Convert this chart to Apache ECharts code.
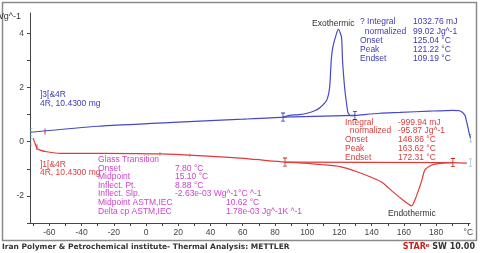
<!DOCTYPE html>
<html><head><meta charset="utf-8">
<script src="https://cdn.jsdelivr.net/npm/echarts@6/dist/echarts.min.js"></script>
<style>html,body{margin:0;padding:0;background:#fff}#c{width:480px;height:253px}</style>
</head><body><div id="c"></div>
<script>
// Blue curve (]3[ cooling run, exothermic peak)
const blueT = [-71.4,-30,20,60,85,89,95,100,105,108,112,113.9,114.9,115.9,118.2,119.4,121.3,121.9,123.2,124.4,125.3,126.9,130,145,157.5,176,190.6,194.7,197.8,198.9,200.5,201.3];
const blueV = [0.35,0.57,0.72,0.83,0.91,0.97,1.0,1.05,1.15,1.26,1.52,2.0,3.0,3.49,4.0,4.15,3.85,3.0,2.0,1.41,1.07,0.96,0.97,1.05,1.08,1.13,1.16,1.14,0.98,0.74,0.31,0.13];
// Red curve (]1[ heating run, endothermic peak)
const redT = [-70,-67.8,-65.8,-61.6,-53.4,-28.6,8.6,54,86.2,100,110,120.3,130.9,140.8,147,153.2,159.4,164.8,166.8,168.7,171.2,173,177.4,182.3,190.4,199.1];
const redV = [0.13,-0.23,-0.31,-0.37,-0.43,-0.43,-0.45,-0.59,-0.75,-0.8,-0.85,-0.92,-1.11,-1.34,-1.52,-1.85,-2.15,-2.37,-2.15,-1.85,-1.41,-1.04,-0.86,-0.8,-0.77,-0.79];
// Integration baselines (limits)
const blueBaseT = [85, 129.6];
const blueBaseV = [0.91, 0.97];
const redBaseT = [86.2, 190.4];
const redBaseV = [-0.75, -0.77];
// start/end markers
const endT = [-71.4, -71.4, 201.3, 201.3];
const endV = [0.35, -0.01, 0.13, -0.77];
// glass transition markers on red curve
const tgT = [8.6, 27.2];
const tgV = [-0.45, -0.5];
// small red marks near curve starts
const startMarkT = [-62.7, -67.7];
const startMarkV = [0.38, -0.2];

// axis ticks
const xTicks = [-70,-60,-50,-40,-30,-20,-10,0,10,20,30,40,50,60,70,80,90,100,110,120,130,140,150,160,170,180,190,200];
const xLabels = [-60,-40,-20,0,20,40,60,80,100,120,140,160,180,200];
const yTicks = [-3,-2,-1,0,1,2,3,4];
const yLabels = [-2,0,2,4];

const zip = (a,b) => a.map((v,i)=>[v,b[i]]);
const BLUE = '#4848c8', RED = '#e23a3a', MAG = '#cc44cc', BTXT = '#3c3cb4', RTXT = '#d84040';
const FONT = '"Liberation Sans", Arial, sans-serif';
const BFONT = '"DejaVu Sans", Verdana, sans-serif';
const ibeam = 'path://M0,0h5v1h-2v8h2v1h-5v-1h2v-8h-2z';

function txt(x, y, s, color, opts) {
  return Object.assign({type:'text', x, y, style:{text:s, fill:color, font:'8.5px ' + FONT, textVerticalAlign:'middle'}}, opts || {});
}

const g = [];
g.push({type:'rect', shape:{x:2.5, y:2.5, width:474, height:238}, style:{fill:'none', stroke:'#8a8a8a', lineWidth:1.5}});
g.push({type:'text', x:21, y:17, style:{text:'Wg^-1', fill:'#333', font:'9px '+FONT, textAlign:'right', textVerticalAlign:'middle'}});
// blue sample
g.push(txt(40, 95, ']3[&4R', BTXT));
g.push(txt(40, 104, '4R, 10.4300 mg', BTXT));
// red sample
g.push(txt(40, 165, ']1[&4R', RTXT));
g.push(txt(40, 173, '4R, 10.4300 mg', RTXT));
// glass transition block
const gL = ['Glass Transition','Onset','Midpoint','Inflect. Pt.','Inflect. Slp.','Midpoint ASTM,IEC','Delta cp ASTM,IEC'];
const gY = [160,169,177,186,194,203,212];
gL.forEach((s,i)=>g.push(txt(98, gY[i], s, MAG)));
g.push(txt(175, 169, '7.80 °C', MAG));
g.push(txt(175, 177, '15.10 °C', MAG));
g.push(txt(175, 186, '8.88 °C', MAG));
g.push(txt(175, 194, '-2.63e-03 Wg^-1°C ^-1', MAG));
g.push(txt(226, 203, '10.62 °C', MAG));
g.push(txt(226, 212, '1.78e-03 Jg^-1K ^-1', MAG));
// red results
const rL = ['Integral','  normalized','Onset','Peak','Endset'];
const rVal = ['-999.94 mJ','-95.87 Jg^-1','146.86 °C','163.62 °C','172.31 °C'];
const rY = [123,131,140,149,158];
rL.forEach((s,i)=>{ g.push(txt(345, rY[i], s, RTXT)); g.push(txt(398, rY[i], rVal[i], RTXT)); });
// blue results
const bL = ['? Integral','  normalized','Onset','Peak','Endset'];
const bVal = ['1032.76 mJ','99.02 Jg^-1','125.04 °C','121.22 °C','109.19 °C'];
const bY = [22,32,41,50,59];
bL.forEach((s,i)=>{ g.push(txt(360, bY[i], s, BTXT)); g.push(txt(413, bY[i], bVal[i], BTXT)); });
g.push(txt(312, 24, 'Exothermic', '#333'));
g.push(txt(388, 214, 'Endothermic', '#333'));
// footer
g.push({type:'text', x:2, y:247, style:{text:'Iran Polymer & Petrochemical institute- Thermal Analysis: METTLER', fill:'#333', font:'bold 7.5px '+BFONT, textVerticalAlign:'middle'}});
g.push({type:'text', x:475, y:247, style:{text:'{r|STAR}{s|e} SW 10.00', fill:'#333', font:'bold 8px '+BFONT, textAlign:'right', textVerticalAlign:'middle',
  rich:{r:{fill:'#d02020', font:'bold 8px '+BFONT}, s:{fill:'#d02020', font:'bold 5.5px '+BFONT, verticalAlign:'top'}}}});

const chart = echarts.init(document.getElementById('c'), null, {renderer:'canvas'});
chart.setOption({
  animation:false,
  grid:{left:30, right:10, top:13, bottom:30},
  xAxis:{type:'value', min:-72, max:201,
    axisLine:{show:true, onZero:false, lineStyle:{color:'#444', width:1}},
    axisTick:{show:true, inside:false, length:3, customValues:xTicks, lineStyle:{color:'#444'}},
    axisLabel:{show:true, customValues:xLabels, margin:5, color:'#444', fontSize:8.5, fontFamily:FONT,
      formatter:v => v===200 ? '°C' : String(v)},
    splitLine:{show:false}},
  yAxis:{type:'value', min:-3, max:4.75,
    axisLine:{show:true, onZero:false, lineStyle:{color:'#444', width:1}},
    axisTick:{show:true, inside:false, length:3, customValues:yTicks, lineStyle:{color:'#444'}},
    axisLabel:{show:true, customValues:yLabels, margin:6, color:'#444', fontSize:8.5, fontFamily:FONT},
    splitLine:{show:false}},
  series:[
    {type:'line', data:zip(blueT,blueV), showSymbol:false, smooth:0.2, clip:false, lineStyle:{color:BLUE, width:1.2}},
    {type:'line', data:zip(redT,redV), showSymbol:false, smooth:0.2, clip:false, lineStyle:{color:RED, width:1.2}},
    {type:'line', data:zip(blueBaseT,blueBaseV), symbol:ibeam, symbolSize:[4,9], showSymbol:true, itemStyle:{color:'#3030b0'}, lineStyle:{color:BLUE, width:1.2}},
    {type:'line', data:zip(redBaseT,redBaseV), symbol:ibeam, symbolSize:[4,9], showSymbol:true, itemStyle:{color:'#d02020'}, lineStyle:{color:RED, width:1.2}},
    {type:'scatter', data:zip(endT,endV), symbol:ibeam, symbolSize:[3,8], clip:false, itemStyle:{color:'#6ab0c0'}},
    {type:'scatter', data:zip(startMarkT,startMarkV), symbol:'rect', symbolSize:[1.2,6], itemStyle:{color:'#c03030'}},
    {type:'scatter', data:zip(tgT,tgV), symbol:'rect', symbolSize:[1,4], itemStyle:{color:'#88a0a8'}}
  ],
  graphic:g
});
</script></body></html>
